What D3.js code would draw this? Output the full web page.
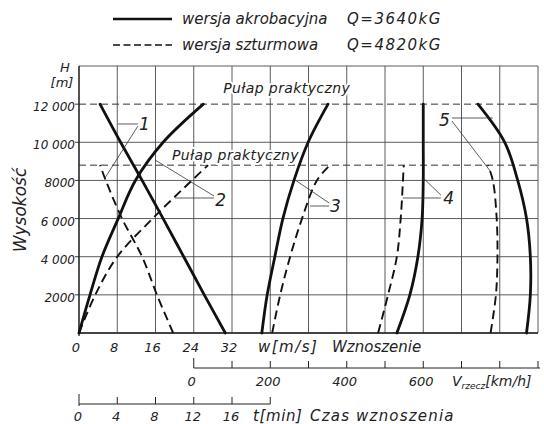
<!DOCTYPE html>
<html>
<head>
<meta charset="utf-8">
<script src="https://cdn.jsdelivr.net/npm/d3@7"></script>
<style>
  html, body { margin: 0; padding: 0; background: #fff; }
  svg { display: block; font-family: "DejaVu Sans", sans-serif; font-style: italic; fill: #222; }
</style>
</head>
<body>
<div id="chart"></div>
<script>
// heights [m] at which the curves were read
const heightsAkro = [0, 2000, 4000, 6000, 8000, 10000, 12000];
const heightsSzt = [0, 2000, 4000, 6000, 8000, 8800];

// 1 - rate of climb w [m/s]
const climbRateAkro = [30.6, 26.2, 21.9, 17.6, 13.2, 8.7, 4.4];
const climbRateSzt = [19.7, 16.3, 13.2, 9.0, 5.6, 4.4];
// 2 - time to climb t [min]
const climbTimeAkro = [0, 1.15, 2.4, 4.1, 5.9, 8.8, 13.0];
const climbTimeSzt = [0, 1.7, 4.0, 7.7, 11.8, 13.5];
// 3, 4, 5 - speeds V [km/h]
const speed3Akro = [178, 192, 212, 233, 262, 299, 351];
const speed3Szt = [205, 226, 252, 283, 322, 356];
const speed4Akro = [531, 565, 586, 597, 600, 600, 600];
const speed4Szt = [482, 508, 531, 541, 547, 549];
const speed5Akro = [870, 880, 880, 870, 847, 813, 743];
const speed5Szt = [776, 790, 794, 792, 782, 769];

// practical ceilings [m]
const ceilingAkro = 12000;
const ceilingSzt = 8800;

// ticks
const yTicks = [2000, 4000, 6000, 8000, 10000, 12000];
const yTickLabels = ['2000', '4 000', '6 000', '8000', '10 000', '12 000'];
const wTicks = [0, 8, 16, 24, 32];
const vTicks = [0, 100, 200, 300, 400, 500, 600, 700, 800, 900];
const vLabels = [0, 200, 400, 600];
const tTicks = [0, 4, 8, 12, 16, 20];
const tLabels = [0, 4, 8, 12, 16];

const W = 544, H = 424;
const X0 = 79, X1 = 538, Y0 = 333, Y1 = 66;

const colScale = d3.scaleLinear([0, 12], [X0, X1]);
const wScale = d3.scaleLinear([0, 96], [X0, X1]);
const tScale = d3.scaleLinear([0, 48], [X0, X1]);
const vScale = d3.scaleLinear([-300, 900], [X0, X1]);
const yScale = d3.scaleLinear([0, 14000], [Y0, Y1]);

const svg = d3.select('#chart').append('svg')
    .attr('width', W).attr('height', H)
    .attr('viewBox', '0 0 ' + W + ' ' + H);

// grid
const grid = svg.append('g').attr('stroke', '#4a4a4a').attr('stroke-width', 0.9);
grid.selectAll('line.v').data(d3.range(0, 13)).join('line')
    .attr('x1', d => colScale(d)).attr('x2', d => colScale(d))
    .attr('y1', Y1).attr('y2', Y0);
grid.selectAll('line.h').data(d3.range(0, 14001, 2000).filter(d => d !== ceilingAkro)).join('line')
    .attr('x1', X0).attr('x2', X1)
    .attr('y1', d => yScale(d)).attr('y2', d => yScale(d));
// frame left/bottom slightly heavier
svg.append('line').attr('x1', X0).attr('x2', X0).attr('y1', Y1).attr('y2', Y0 + 3)
    .attr('stroke', '#222').attr('stroke-width', 1.3);
svg.append('line').attr('x1', X0).attr('x2', X1).attr('y1', Y0).attr('y2', Y0)
    .attr('stroke', '#222').attr('stroke-width', 1.3);

// y axis ticks + labels
svg.selectAll('line.ytick').data(yTicks).join('line')
    .attr('x1', X0 - 4).attr('x2', X0)
    .attr('y1', d => yScale(d)).attr('y2', d => yScale(d))
    .attr('stroke', '#222').attr('stroke-width', 0.9);
svg.selectAll('text.ylab').data(yTicks).join('text')
    .attr('x', X0 - 4).attr('y', d => yScale(d) + 7)
    .attr('text-anchor', 'end').attr('font-size', 12)
    .text((d, i) => yTickLabels[i]);
svg.append('text').attr('x', 65).attr('y', 72).attr('text-anchor', 'middle')
    .attr('font-size', 13).text('H');
svg.append('text').attr('x', 62).attr('y', 87).attr('text-anchor', 'middle')
    .attr('font-size', 13).text('[m]');
svg.append('text').attr('transform', 'translate(26,210) rotate(-90)')
    .attr('text-anchor', 'middle').attr('font-size', 17).text('Wysokość');

// practical ceilings
const ceil = svg.append('g').attr('stroke', '#333').attr('stroke-width', 1)
    .attr('stroke-dasharray', '7,4');
[ceilingAkro, ceilingSzt].forEach(c => {
    ceil.append('line').attr('x1', X0).attr('x2', X1)
        .attr('y1', yScale(c)).attr('y2', yScale(c));
});
function halo(sel) {
    return sel.attr('stroke', '#fff').attr('stroke-width', 4)
        .attr('paint-order', 'stroke').attr('stroke-linejoin', 'round');
}
halo(svg.append('text').attr('x', colScale(3.77)).attr('y', yScale(ceilingAkro) - 11)
    .attr('font-size', 14).attr('letter-spacing', 0.4).text('Pułap praktyczny'));
halo(svg.append('text').attr('x', colScale(2.43)).attr('y', yScale(ceilingSzt) - 5)
    .attr('font-size', 14).attr('letter-spacing', 0.4).text('Pułap praktyczny'));

// curves
const curves = [
    { scale: wScale, akro: climbRateAkro, szt: climbRateSzt },
    { scale: tScale, akro: climbTimeAkro, szt: climbTimeSzt },
    { scale: vScale, akro: speed3Akro, szt: speed3Szt },
    { scale: vScale, akro: speed4Akro, szt: speed4Szt },
    { scale: vScale, akro: speed5Akro, szt: speed5Szt }
];
curves.forEach(c => {
    const line = d3.line()
        .x(d => c.scale(d[0]))
        .y(d => yScale(d[1]))
        .curve(d3.curveCatmullRom.alpha(0.5));
    svg.append('path')
        .datum(c.akro.map((v, i) => [v, heightsAkro[i]]))
        .attr('d', line)
        .attr('fill', 'none').attr('stroke', '#111').attr('stroke-width', 2.8)
        .attr('stroke-linecap', 'round');
    svg.append('path')
        .datum(c.szt.map((v, i) => [v, heightsSzt[i]]))
        .attr('d', line)
        .attr('fill', 'none').attr('stroke', '#111').attr('stroke-width', 1.9)
        .attr('stroke-dasharray', '9,5');
});

// curve numbers with leader lines (positions in grid columns / metres)
const callouts = [
    { label: '1', at: [1.57, 10640], lines: [[[1.02, 10960], [1.54, 10960]], [[1.54, 10850], [0.68, 8130]]] },
    { label: '2', at: [3.56, 6659], lines: [[[2.51, 7078], [3.53, 7078]], [[3.53, 7183], [1.99, 9070]]] },
    { label: '3', at: [6.56, 6344], lines: [[[6.04, 6659], [6.54, 6659]], [[6.54, 6816], [5.65, 8022]]] },
    { label: '4', at: [9.52, 6763], lines: [[[8.47, 7078], [9.46, 7078]], [[9.46, 7235], [9.0, 8127]]] },
    { label: '5', at: [9.41, 10853], lines: [[[9.75, 11272], [10.82, 11272]], [[9.75, 11115], [10.75, 8494]]] }
];
callouts.forEach(c => {
    c.lines.forEach(l => {
        svg.append('line')
            .attr('x1', colScale(l[0][0])).attr('y1', yScale(l[0][1]))
            .attr('x2', colScale(l[1][0])).attr('y2', yScale(l[1][1]))
            .attr('stroke', '#333').attr('stroke-width', 0.8);
    });
    svg.append('text').attr('x', colScale(c.at[0])).attr('y', yScale(c.at[1]))
        .attr('font-size', 17).text(c.label);
});

// w axis labels (bottom of grid)
svg.selectAll('text.wlab').data(wTicks).join('text')
    .attr('x', d => wScale(d) - 3).attr('y', 352)
    .attr('text-anchor', 'middle').attr('font-size', 13).text(d => d);
svg.append('text').attr('x', 258).attr('y', 352).attr('font-size', 15)
    .attr('letter-spacing', 1.5).text('w[m/s]');
svg.append('text').attr('x', 332).attr('y', 352).attr('font-size', 15)
    .text('Wznoszenie');

// speed axis
const vy = 368;
const va = svg.append('g').attr('stroke', '#222').attr('stroke-width', 1);
va.append('line').attr('x1', vScale(0)).attr('x2', vScale(900) + 2).attr('y1', vy).attr('y2', vy);
va.selectAll('line.t').data(vTicks).join('line')
    .attr('x1', d => vScale(d)).attr('x2', d => vScale(d))
    .attr('y1', (d, i) => i === 0 ? vy - 10 : vy - 7).attr('y2', vy);
svg.selectAll('text.vlab').data(vLabels).join('text')
    .attr('x', d => vScale(d) - 2).attr('y', 386)
    .attr('text-anchor', 'middle').attr('font-size', 13).text(d => d);
const vt = svg.append('text').attr('x', 452).attr('y', 386).attr('font-size', 14);
vt.append('tspan').text('V');
vt.append('tspan').attr('font-size', 9).attr('dy', 3).text('rzecz');
vt.append('tspan').attr('dy', -3).text('[km/h]');

// time axis
const ty = 404;
const ta = svg.append('g').attr('stroke', '#222').attr('stroke-width', 1);
ta.append('line').attr('x1', tScale(0)).attr('x2', tScale(20)).attr('y1', ty).attr('y2', ty);
ta.selectAll('line.t').data(tTicks).join('line')
    .attr('x1', d => tScale(d)).attr('x2', d => tScale(d))
    .attr('y1', (d, i) => i === 0 ? ty - 10 : ty - 7).attr('y2', (d, i) => i === 0 ? ty + 2 : ty);
svg.selectAll('text.tlab').data(tLabels).join('text')
    .attr('x', d => tScale(d) - 1).attr('y', 421)
    .attr('text-anchor', 'middle').attr('font-size', 13).text(d => d);
svg.append('text').attr('x', 253).attr('y', 421).attr('font-size', 15)
    .attr('letter-spacing', 0.6).text('t[min]');
svg.append('text').attr('x', 310).attr('y', 421).attr('font-size', 15)
    .attr('letter-spacing', 1.2).text('Czas wznoszenia');

// legend
const legend = [
    { name: 'wersja akrobacyjna', q: 'Q=3640kG', dash: null, width: 2.6, y: 19 },
    { name: 'wersja szturmowa', q: 'Q=4820kG', dash: '7,3.5', width: 1.3, y: 45 }
];
legend.forEach(l => {
    svg.append('line').attr('x1', 113).attr('x2', 172).attr('y1', l.y).attr('y2', l.y)
        .attr('stroke', '#111').attr('stroke-width', l.width)
        .attr('stroke-dasharray', l.dash);
    svg.append('text').attr('x', 182).attr('y', l.y + 5).attr('font-size', 15)
        .text(l.name);
    svg.append('text').attr('x', 347).attr('y', l.y + 5).attr('font-size', 15)
        .attr('letter-spacing', 1.5).text(l.q);
});
</script>
</body>
</html>
